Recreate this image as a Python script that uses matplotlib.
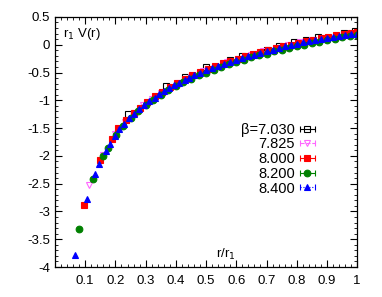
import matplotlib
matplotlib.use('Agg')
import matplotlib.pyplot as plt
from matplotlib.ticker import MultipleLocator

plt.rcParams['font.family'] = ['Liberation Sans', 'DejaVu Sans']
plt.rcParams['font.size'] = 9.5

# beta = 7.030
x_7030 = [0.243, 0.366, 0.43, 0.50, 0.58, 0.62, 0.70, 0.74, 0.79, 0.83, 0.87, 0.955, 0.993]
y_7030 = [-1.24, -0.74, -0.58, -0.40, -0.27, -0.20, -0.09, -0.02, 0.04, 0.09, 0.13, 0.21, 0.24]

# beta = 7.825
x_7825 = [0.114, 0.16, 0.2, 0.23, 0.26, 0.29, 0.32, 0.35, 0.38, 0.41, 0.45, 0.49,
          0.53, 0.57, 0.61, 0.65, 0.69, 0.73, 0.77, 0.81, 0.85, 0.89, 0.93, 0.97]
y_7825 = [-2.52, -1.98, -1.61, -1.39, -1.22, -1.08, -0.97, -0.86, -0.77, -0.68, -0.58, -0.48,
          -0.40, -0.32, -0.25, -0.18, -0.12, -0.06, -0.01, 0.04, 0.08, 0.12, 0.16, 0.19]

# beta = 8.000
x_8000 = [0.097, 0.15, 0.188, 0.21, 0.235, 0.26, 0.28, 0.305, 0.33, 0.355, 0.38, 0.405,
          0.43, 0.455, 0.48, 0.505, 0.53, 0.555, 0.58, 0.605, 0.63, 0.655, 0.68, 0.705,
          0.73, 0.755, 0.78, 0.805, 0.83, 0.855, 0.88, 0.905, 0.93, 0.955, 0.98, 1.0]
y_8000 = [-2.88, -2.08, -1.70, -1.50, -1.36, -1.22, -1.13, -1.03, -0.93, -0.85, -0.76, -0.69,
          -0.61, -0.55, -0.49, -0.43, -0.38, -0.33, -0.29, -0.25, -0.21, -0.17, -0.13, -0.10,
          -0.06, -0.03, 0.00, 0.03, 0.06, 0.09, 0.12, 0.14, 0.17, 0.19, 0.21, 0.23]

# beta = 8.200
x_8200 = [0.08, 0.126, 0.16, 0.174, 0.201, 0.225, 0.25, 0.275, 0.3, 0.325, 0.35, 0.375,
          0.4, 0.425, 0.45, 0.475, 0.5, 0.525, 0.55, 0.575, 0.6, 0.625, 0.65, 0.675,
          0.7, 0.725, 0.75, 0.775, 0.8, 0.825, 0.85, 0.875, 0.9, 0.925, 0.95, 0.975, 1.0]
y_8200 = [-3.31, -2.41, -2.00, -1.86, -1.63, -1.47, -1.32, -1.19, -1.08, -0.99, -0.90, -0.82,
          -0.74, -0.67, -0.61, -0.55, -0.50, -0.45, -0.40, -0.35, -0.31, -0.27, -0.23, -0.19,
          -0.16, -0.12, -0.09, -0.06, -0.03, 0.00, 0.03, 0.05, 0.08, 0.10, 0.13, 0.15, 0.17]

# beta = 8.400
x_8400 = [0.066, 0.105, 0.132, 0.145, 0.169, 0.183, 0.198, 0.212, 0.228, 0.245, 0.262, 0.278,
          0.295, 0.31, 0.33, 0.345, 0.36, 0.378, 0.395, 0.41, 0.43, 0.445, 0.46, 0.48,
          0.5, 0.52, 0.54, 0.56, 0.58, 0.6, 0.62, 0.64, 0.66, 0.68, 0.7, 0.72,
          0.74, 0.76, 0.78, 0.8, 0.82, 0.84, 0.86, 0.88, 0.9, 0.92, 0.94, 0.96, 0.98, 1.0]
y_8400 = [-3.78, -2.77, -2.32, -2.15, -1.91, -1.78, -1.65, -1.52, -1.42, -1.32, -1.24, -1.16,
          -1.08, -1.02, -0.95, -0.89, -0.84, -0.78, -0.73, -0.68, -0.63, -0.59, -0.55, -0.51,
          -0.46, -0.42, -0.38, -0.35, -0.31, -0.28, -0.24, -0.21, -0.18, -0.15, -0.12, -0.09,
          -0.06, -0.03, -0.01, 0.02, 0.04, 0.06, 0.08, 0.10, 0.12, 0.14, 0.15, 0.17, 0.19, 0.20]

series = [
    (x_7030, y_7030, 'β=7.030', 'black', 's', 'none', '-'),
    (x_7825, y_7825, '7.825', '#ff66ff', 'v', 'none', '--'),
    (x_8000, y_8000, '8.000', '#ff0000', 's', '#ff0000', '-'),
    (x_8200, y_8200, '8.200', '#008000', 'o', '#008000', '-'),
    (x_8400, y_8400, '8.400', '#0000ff', '^', '#0000ff', ':'),
]

fig = plt.figure(figsize=(3.82, 2.97), dpi=100)
ax = fig.add_axes([0.144, 0.101, 0.791, 0.842])

handles = []
for xs, ys, lab, col, mk, fc, ls in series:
    ms = 4.2 if mk == 's' else 4.8
    h = ax.errorbar(xs, ys, xerr=0.0, fmt=mk, color=col, mfc=fc, mec=col,
                    ms=ms, mew=0.8, elinewidth=0.8, capsize=2.2, label=lab)
    for b in h[2]:
        b.set_linestyle(ls)
    handles.append(h)

ax.set_xlim(0, 1)
ax.set_ylim(-4, 0.5)
ax.set_xticks([0.1, 0.2, 0.3, 0.4, 0.5, 0.6, 0.7, 0.8, 0.9, 1.0])
ax.set_xticklabels(['0.1', '0.2', '0.3', '0.4', '0.5', '0.6', '0.7', '0.8', '0.9', '1'])
ax.set_yticks([-4, -3.5, -3, -2.5, -2, -1.5, -1, -0.5, 0, 0.5])
ax.set_yticklabels(['-4', '-3.5', '-3', '-2.5', '-2', '-1.5', '-1', '-0.5', '0', '0.5'])
ax.xaxis.set_minor_locator(MultipleLocator(0.02))
ax.yaxis.set_minor_locator(MultipleLocator(0.1))
ax.tick_params(which='both', direction='in', top=True, right=True, labelsize=9.5)
ax.tick_params(which='major', length=5, width=0.8)
ax.tick_params(which='minor', length=2.5, width=0.6)
ax.tick_params(axis='x', pad=6)
for sp in ax.spines.values():
    sp.set_linewidth(0.9)

ax.text(0.025, 0.93, 'r$_1$ V(r)', transform=ax.transAxes, ha='left', va='center')
ax.text(0.566, 0.05, 'r/r$_1$', transform=ax.transAxes, ha='center', va='center')

leg = ax.legend(handles=handles, loc='upper right', bbox_to_anchor=(0.893, 0.618),
                frameon=False, markerfirst=False, handlelength=1.0, handletextpad=0.35,
                labelspacing=0.05, borderpad=0.2, fontsize=10.5)
for t in leg.get_texts():
    t.set_ha('right')

# error bars are tiny: hide caps/bars on data (legend keeps its own copies)
for h in handles:
    for c in h[1]:
        c.set_visible(False)
    for b in h[2]:
        b.set_visible(False)

fig.savefig('out.png', dpi=100)
